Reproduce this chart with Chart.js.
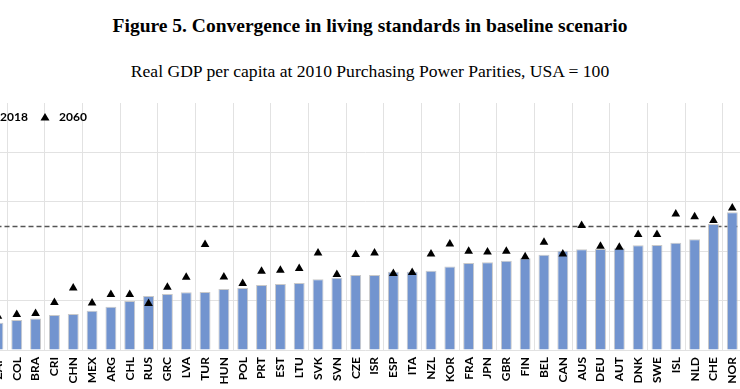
<!DOCTYPE html>
<html>
<head>
<meta charset="utf-8">
<script src="https://cdn.jsdelivr.net/npm/chart.js@4.4.1/dist/chart.umd.min.js"></script>
<style>
  html, body { margin: 0; padding: 0; background: #fff; }
  body { width: 740px; height: 389px; overflow: hidden; position: relative; }
  .title { position: absolute; left: 0; width: 740px; text-align: center; font-family: "Liberation Serif", serif; color: #000; white-space: nowrap; }
  #t1 { top: 15px; font-size: 19.5px; font-weight: bold; }
  #t2 { top: 61px; font-size: 17.6px; }
  #wrap { position: absolute; left: -60px; top: 90px; width: 860px; height: 320px; }
</style>
</head>
<body>
<div id="t1" class="title">Figure 5. Convergence in living standards in baseline scenario</div>
<div id="t2" class="title">Real GDP per capita at 2010 Purchasing Power Parities, USA = 100</div>
<div id="wrap"><canvas id="chart"></canvas></div>
<script>
// Countries, ordered by 2018 level
const countries = ['ZAF', 'COL', 'BRA', 'CRI', 'CHN', 'MEX', 'ARG', 'CHL', 'RUS', 'GRC',
  'LVA', 'TUR', 'HUN', 'POL', 'PRT', 'EST', 'LTU', 'SVK', 'SVN', 'CZE',
  'ISR', 'ESP', 'ITA', 'NZL', 'KOR', 'FRA', 'JPN', 'GBR', 'FIN', 'BEL',
  'CAN', 'AUS', 'DEU', 'AUT', 'DNK', 'SWE', 'ISL', 'NLD', 'CHE', 'NOR'];

// GDP per capita, USA = 100
const gdp2018 = [22.1, 24.3, 25.6, 28.3, 29.1, 31.8, 35.1, 39.7, 43.7, 45.3,
  46.7, 47.0, 49.4, 50.2, 52.6, 53.4, 54.3, 57.2, 58.6, 60.7,
  60.7, 63.4, 63.4, 64.2, 67.7, 70.4, 71.0, 72.3, 74.2, 77.2,
  80.4, 81.5, 81.8, 82.3, 84.8, 85.0, 86.9, 89.6, 102.0, 111.5];

const gdp2060 = [27.3, 28.7, 29.5, 38.4, 50.3, 38.1, 44.9, 44.9, 37.6, 50.8,
  58.9, 85.4, 59.2, 53.8, 63.8, 64.6, 65.9, 78.6, 61.1, 77.3,
  78.6, 61.9, 62.7, 77.8, 85.9, 80.0, 79.4, 80.0, 75.6, 87.3,
  77.8, 100.8, 84.0, 83.2, 93.5, 93.5, 110.2, 107.8, 104.8, 115.0];

const seriesNames = ['2018', '2060'];
const usaLevel = 100;
const yTicks = [0, 40, 80, 120, 160, 200];

const barColor = 'rgb(114, 148, 207)';
const gridColor = '#e2e2e2';

// dashed USA = 100 reference line, behind the bars
const usaLine = {
  id: 'usaLine',
  beforeDatasetsDraw(chart) {
    const ctx = chart.ctx;
    const a = chart.chartArea;
    const y = chart.scales.y.getPixelForValue(usaLevel);
    ctx.save();
    ctx.strokeStyle = '#555';
    ctx.lineWidth = 1.5;
    ctx.setLineDash([5, 3]);
    ctx.beginPath();
    ctx.moveTo(a.left, y);
    ctx.lineTo(a.right, y);
    ctx.stroke();
    ctx.restore();
  }
};

// legend drawn inside the plot area, top left
const cornerLegend = {
  id: 'cornerLegend',
  afterDatasetsDraw(chart) {
    const ctx = chart.ctx;
    const a = chart.chartArea;
    const y = a.top + 14;
    ctx.save();
    ctx.font = 'bold 12px Lato';
    ctx.textBaseline = 'middle';
    ctx.fillStyle = barColor;
    ctx.fillRect(a.left + 1, y - 4, 7, 7);
    ctx.fillStyle = '#000';
    ctx.fillText(seriesNames[0], a.left + 11.5, y);
    const tx = a.left + 56.5;
    ctx.beginPath();
    ctx.moveTo(tx, y - 4);
    ctx.lineTo(tx + 4.5, y + 3.5);
    ctx.lineTo(tx - 4.5, y + 3.5);
    ctx.closePath();
    ctx.fill();
    ctx.fillText(seriesNames[1], a.left + 70.5, y);
    ctx.restore();
  }
};

const ctx = document.getElementById('chart').getContext('2d');
new Chart(ctx, {
  type: 'bar',
  data: {
    labels: countries,
    datasets: [
      {
        type: 'line',
        label: seriesNames[1],
        data: gdp2060,
        showLine: false,
        pointStyle: 'triangle',
        pointRadius: 5,
        pointBackgroundColor: '#000',
        pointBorderColor: '#000',
        pointBorderWidth: 0,
        order: 0
      },
      {
        label: seriesNames[0],
        data: gdp2018,
        backgroundColor: barColor,
        borderColor: 'rgba(195, 195, 195, 0.9)',
        borderWidth: 1,
        categoryPercentage: 1,
        barPercentage: 0.58,
        order: 1
      }
    ]
  },
  options: {
    responsive: true,
    maintainAspectRatio: false,
    animation: false,
    layout: { padding: { left: 8.5, right: 58.3, top: 13, bottom: 20 } },
    plugins: {
      legend: { display: false },
      tooltip: { enabled: false }
    },
    scales: {
      x: {
        offset: true,
        grid: {
          offset: true,
          drawTicks: false,
          color: c => (c.index % 2 === 1 ? gridColor : 'rgba(0,0,0,0)')
        },
        border: { display: false },
        ticks: {
          autoSkip: false,
          minRotation: 90,
          maxRotation: 90,
          padding: 7,
          color: '#000',
          font: { family: 'Lato', size: 12, weight: 'bold' }
        },
        afterFit: s => { s.height = 40; }
      },
      y: {
        min: yTicks[0],
        max: yTicks[yTicks.length - 1],
        afterBuildTicks: s => { s.ticks = yTicks.map(v => ({ value: v })); },
        grid: {
          drawTicks: false,
          color: c => (c.tick && c.tick.value === 200 ? 'rgba(0,0,0,0)' : gridColor)
        },
        border: { display: false },
        ticks: { color: '#000', font: { family: 'Lato', size: 11 } },
        afterFit: s => { s.width = 40; }
      }
    }
  },
  plugins: [usaLine, cornerLegend]
});
</script>
</body>
</html>
